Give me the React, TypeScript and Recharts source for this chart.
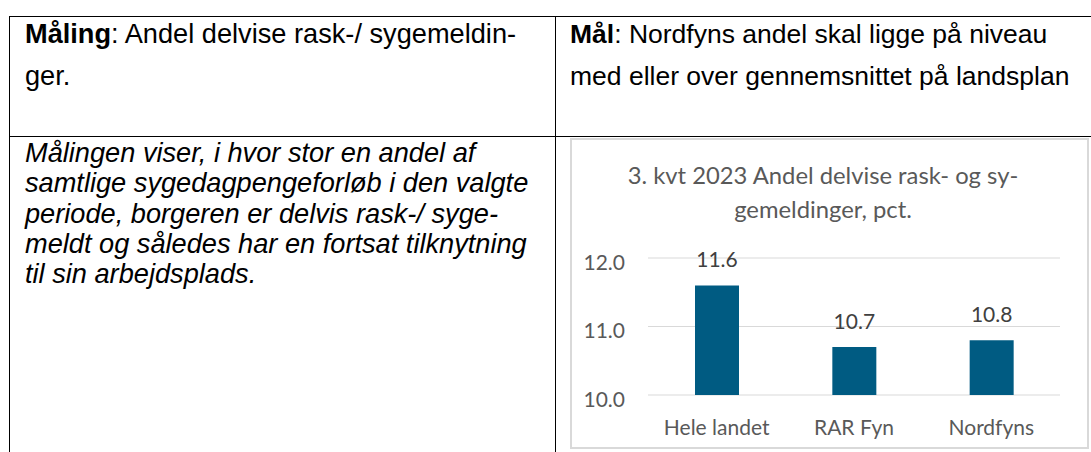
import { BarChart, Bar, XAxis, YAxis, CartesianGrid, LabelList } from 'recharts';

// chart values
const categories = ['Hele landet', 'RAR Fyn', 'Nordfyns'];
const shares = [11.6, 10.7, 10.8];
const yTicks = [10, 11, 12];
const titleLines = ['3. kvt 2023 Andel delvise rask- og sy-', 'gemeldinger, pct.'];

// table texts
const maalingLabel = 'Måling';
const maalingLines = [': Andel delvise rask-/ sygemeldin-', 'ger.'];
const maalLabel = 'Mål';
const maalLines = [': Nordfyns andel skal ligge på niveau', 'med eller over gennemsnittet på landsplan'];
const descriptionLines = [
    'Målingen viser, i hvor stor en andel af',
    'samtlige sygedagpengeforløb i den valgte',
    'periode, borgeren er delvis rask-/ syge-',
    'meldt og således har en fortsat tilknytning',
    'til sin arbejdsplads.',
];

const data = categories.map((name, i) => ({ name, value: shares[i] }));

const CHART_FONT = 'Lato, "Noto Sans", sans-serif';
const DOC_FONT = '"Liberation Sans", Arial, sans-serif';

const YTick = (props: any) => (
    <text x={props.x} y={props.y} dy={11.5} textAnchor="end" fill="#595959" fontSize={21} fontFamily={CHART_FONT}>
        {Number(props.payload.value).toFixed(1)}
    </text>
);

const line = (style: any) => ({ position: 'absolute' as const, background: '#000', ...style });

const App = () => {
    const textStyle = { position: 'absolute' as const, fontFamily: DOC_FONT, fontSize: 26.5, lineHeight: '30px', color: '#000', whiteSpace: 'nowrap' as const };

    return (
        <div style={{ position: 'absolute', left: 0, top: 0, width: 1091, height: 452, background: '#fff', overflow: 'hidden' }}>
            {/* table borders */}
            <div style={line({ left: 9, top: 16, width: 1082, height: 1 })} />
            <div style={line({ left: 9, top: 136, width: 1082, height: 1 })} />
            <div style={line({ left: 9, top: 16, width: 1, height: 436 })} />
            <div style={line({ left: 555, top: 16, width: 1, height: 436 })} />

            {/* row 1 */}
            <div style={{ ...textStyle, left: 25, top: 19, fontSize: 27.2 }}><b>{maalingLabel}</b>{maalingLines[0]}</div>
            <div style={{ ...textStyle, left: 25, top: 61, fontSize: 27.2 }}>{maalingLines[1]}</div>
            <div style={{ ...textStyle, left: 570, top: 19 }}><b>{maalLabel}</b>{maalLines[0]}</div>
            <div style={{ ...textStyle, left: 570, top: 61 }}>{maalLines[1]}</div>

            {/* row 2 */}
            {descriptionLines.map((t, i) => (
                <div key={i} style={{ ...textStyle, left: 25, top: 138 + i * 30.3, fontSize: 27.2, fontStyle: 'italic' }}>{t}</div>
            ))}

            {/* chart */}
            <div style={{ position: 'absolute', left: 570, top: 138, width: 519, height: 311 }}>
                <BarChart width={519} height={311} data={data} margin={{ top: 120, right: 29, left: 0, bottom: 0 }} barSize={44}>
                    <CartesianGrid vertical={false} stroke="#d9d9d9" />
                    <XAxis dataKey="name" axisLine={false} tickLine={false} tickSize={0} tickMargin={25} height={54}
                        tick={{ fill: '#595959', fontSize: 21, fontFamily: CHART_FONT }} />
                    <YAxis type="number" domain={[10, 12]} ticks={yTicks} axisLine={false} tickLine={false} tickSize={0} tickMargin={23} width={78}
                        tick={<YTick />} />
                    <Bar dataKey="value" fill="#005b82" isAnimationActive={false}>
                        <LabelList dataKey="value" position="top" offset={18} fill="#404040" fontSize={21} fontFamily={CHART_FONT}
                            formatter={(v: any) => Number(v).toFixed(1)} />
                    </Bar>
                </BarChart>
                <div style={{ position: 'absolute', left: 0, top: 0, width: 519, height: 311, boxSizing: 'border-box', border: '2px solid #d9d9d9', pointerEvents: 'none' }} />
                {titleLines.map((t, i) => (
                    <div key={i} style={{ position: 'absolute', left: 0, width: 506, top: 22 + i * 34, textAlign: 'center', fontFamily: CHART_FONT, fontSize: 23.8, lineHeight: '30px', color: '#595959', whiteSpace: 'nowrap' }}>{t}</div>
                ))}
            </div>
        </div>
    );
};

export default App;
